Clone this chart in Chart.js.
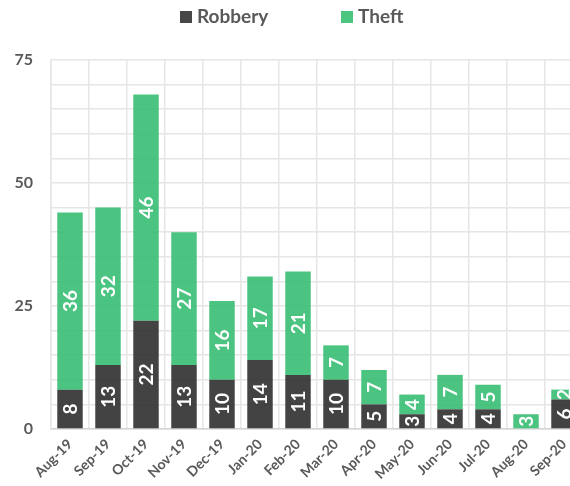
<!DOCTYPE html>
<html>
<head>
<meta charset="utf-8">
<script src="https://cdn.jsdelivr.net/npm/chart.js@4"></script>
<style>
  html, body { margin: 0; padding: 0; background: #fff; overflow: hidden; }
  #wrap { width: 600px; height: 486px; }
</style>
</head>
<body>
<div id="wrap"><canvas id="chart" width="600" height="486"></canvas></div>
<script>
// Dados do gráfico
const months = ['Aug-19', 'Sep-19', 'Oct-19', 'Nov-19', 'Dec-19', 'Jan-20', 'Feb-20',
                'Mar-20', 'Apr-20', 'May-20', 'Jun-20', 'Jul-20', 'Aug-20', 'Sep-20'];
const robbery = [8, 13, 22, 13, 10, 14, 11, 10, 5, 3, 4, 4, 0, 6];
const theft = [36, 32, 46, 27, 16, 17, 21, 7, 7, 4, 7, 5, 3, 2];
const yLabels = [0, 25, 50, 75];

const FONT = 'Lato, "Open Sans", sans-serif';
const TEXT_COLOR = '#595959';
const DARK = 'rgba(47, 47, 47, 0.9)';
const GREEN = 'rgba(56, 190, 115, 0.9)';

// Rótulos brancos girados dentro das barras
const barLabels = {
    id: 'barLabels',
    afterDatasetsDraw(chart) {
        const ctx = chart.ctx;
        ctx.save();
        ctx.font = 'bold 19px ' + FONT;
        ctx.fillStyle = '#ffffff';
        ctx.textAlign = 'center';
        ctx.textBaseline = 'middle';
        chart.data.datasets.forEach((ds, i) => {
            const meta = chart.getDatasetMeta(i);
            meta.data.forEach((bar, j) => {
                const v = ds.data[j];
                if (!v) return;
                const { x, y, base } = bar.getProps(['x', 'y', 'base'], true);
                ctx.save();
                ctx.translate(x, (y + base) / 2);
                ctx.rotate(-Math.PI / 2);
                ctx.fillText(String(v), 0, 1);
                ctx.restore();
            });
        });
        ctx.restore();
    }
};

// Legenda no topo
const topLegend = {
    id: 'topLegend',
    afterDraw(chart) {
        const ctx = chart.ctx;
        const items = [
            { text: 'Robbery', color: '#474747', x: 180 },
            { text: 'Theft', color: '#4cc580', x: 341 }
        ];
        ctx.save();
        ctx.font = 'bold 19px ' + FONT;
        ctx.textBaseline = 'middle';
        ctx.textAlign = 'left';
        items.forEach(item => {
            ctx.fillStyle = item.color;
            ctx.fillRect(item.x, 11, 12, 12);
            ctx.fillStyle = TEXT_COLOR;
            ctx.fillText(item.text, item.x + 17, 17);
        });
        ctx.restore();
    }
};

new Chart(document.getElementById('chart'), {
    type: 'bar',
    data: {
        labels: months,
        datasets: [
            { label: 'Robbery', data: robbery, backgroundColor: DARK, borderWidth: 0 },
            { label: 'Theft', data: theft, backgroundColor: GREEN, borderWidth: 0 }
        ]
    },
    options: {
        responsive: false,
        animation: false,
        layout: { padding: { top: 60, right: 17, left: 0, bottom: 0 } },
        datasets: { bar: { barPercentage: 0.67, categoryPercentage: 1 } },
        plugins: {
            legend: { display: false },
            tooltip: { enabled: false }
        },
        scales: {
            x: {
                stacked: true,
                afterFit(scale) { scale.height = 57; },
                grid: { color: '#e6e6e6', lineWidth: 1.5, drawTicks: false, offset: true },
                border: { color: '#d4d4d4', width: 1.5 },
                ticks: {
                    autoSkip: false,
                    maxRotation: 45,
                    minRotation: 45,
                    padding: 7,
                    color: TEXT_COLOR,
                    font: { family: FONT, size: 14, weight: 'bold' }
                }
            },
            y: {
                stacked: true,
                min: 0,
                max: 75,
                afterFit(scale) { scale.width = 51; },
                grid: { color: '#e6e6e6', lineWidth: 1.5, drawTicks: false },
                border: { color: '#e6e6e6', width: 1.5 },
                ticks: {
                    stepSize: 5,
                    padding: 18,
                    color: TEXT_COLOR,
                    font: { family: FONT, size: 16, weight: 'bold' },
                    callback: value => yLabels.includes(value) ? String(value) : ''
                }
            }
        }
    },
    plugins: [barLabels, topLegend]
});
</script>
</body>
</html>
